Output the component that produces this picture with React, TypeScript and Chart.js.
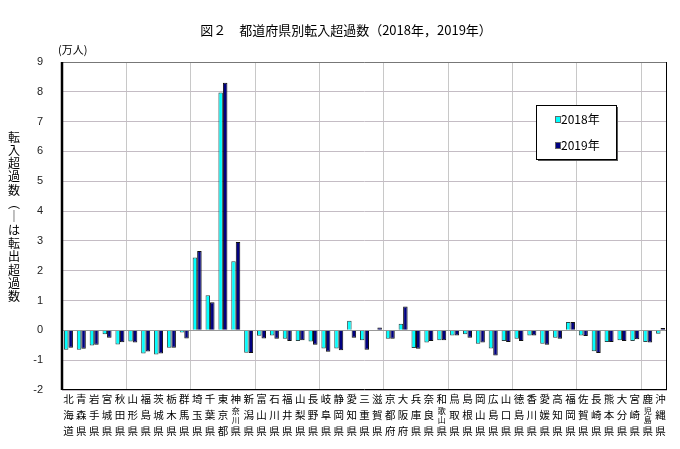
import React, { useEffect, useRef } from 'react';
import { Chart, registerables } from 'chart.js';

Chart.register(...registerables);

const prefectures = [
  '北海道', '青森県', '岩手県', '宮城県', '秋田県', '山形県', '福島県', '茨城県', '栃木県', '群馬県',
  '埼玉県', '千葉県', '東京都', '神奈川県', '新潟県', '富山県', '石川県', '福井県', '山梨県', '長野県',
  '岐阜県', '静岡県', '愛知県', '三重県', '滋賀県', '京都府', '大阪府', '兵庫県', '奈良県', '和歌山県',
  '鳥取県', '島根県', '岡山県', '広島県', '山口県', '徳島県', '香川県', '愛媛県', '高知県', '福岡県',
  '佐賀県', '長崎県', '熊本県', '大分県', '宮崎県', '鹿児島県', '沖縄県',
];

const values2018 = [
  -0.65, -0.65, -0.51, -0.13, -0.47, -0.37, -0.78, -0.81, -0.58, -0.07,
  2.44, 1.18, 7.98, 2.32, -0.75, -0.18, -0.17, -0.28, -0.36, -0.37,
  -0.61, -0.61, 0.32, -0.33, 0.02, -0.28, 0.22, -0.59, -0.41, -0.33,
  -0.17, -0.13, -0.45, -0.61, -0.36, -0.28, -0.17, -0.45, -0.25, 0.28,
  -0.17, -0.70, -0.39, -0.33, -0.36, -0.39, -0.11,
];

const values2019 = [
  -0.58, -0.62, -0.48, -0.25, -0.40, -0.41, -0.71, -0.78, -0.58, -0.27,
  2.66, 0.94, 8.30, 2.96, -0.76, -0.27, -0.28, -0.36, -0.33, -0.48,
  -0.72, -0.67, -0.25, -0.65, 0.10, -0.28, 0.80, -0.62, -0.36, -0.33,
  -0.17, -0.25, -0.41, -0.84, -0.39, -0.36, -0.17, -0.48, -0.28, 0.28,
  -0.19, -0.76, -0.39, -0.36, -0.30, -0.41, 0.08,
];

const seriesNames = ['2018年', '2019年'];
const seriesColors = ['#00FFFF', '#000080'];
const yMin = -2;
const yMax = 9;
const yStep = 1;
const titleText = '図２　都道府県別転入超過数（2018年，2019年）';
const unitText = '(万人)';
const yAxisTitleChars = ['転', '入', '超', '過', '数', '︵', '｜', 'は', '転', '出', '超', '過', '数'];

const JP = '"Noto Sans CJK JP", "Noto Sans", sans-serif';
const NUM = '"Liberation Sans Narrow", "Liberation Sans", Arial, sans-serif';

const textPlugin = {
  id: 'textPlugin',
  afterDraw(chart: any) {
    const { ctx, chartArea, scales } = chart;
    const xs = scales.x;
    ctx.save();
    // title
    ctx.fillStyle = '#000';
    ctx.font = `13px ${JP}`;
    ctx.textAlign = 'center';
    ctx.textBaseline = 'middle';
    ctx.fillText(titleText, 346, 30);
    // unit
    ctx.font = `11px ${JP}`;
    ctx.textAlign = 'left';
    ctx.fillText(unitText, 58, 50);
    // y axis title (vertical)
    ctx.font = `12px ${JP}`;
    ctx.textAlign = 'center';
    yAxisTitleChars.forEach((c, i) => {
      ctx.fillText(c, 14, 137 + i * 13.3);
    });
    // x labels (vertical stacks)
    const rows = [399, 415.5, 431.5];
    prefectures.forEach((name, i) => {
      const x = xs.getPixelForValue(i);
      const chars = Array.from(name);
      ctx.font = `10.5px ${JP}`;
      if (chars.length === 3) {
        chars.forEach((c, r) => ctx.fillText(c, x, rows[r]));
      } else {
        ctx.fillText(chars[0], x, rows[0]);
        ctx.fillText(chars[3], x, rows[2]);
        ctx.font = `8px ${JP}`;
        ctx.fillText(chars[1], x, 410.5);
        ctx.fillText(chars[2], x, 420);
      }
    });
    // legend
    const lx = 536, ly = 105, lw = 80, lh = 54;
    ctx.fillStyle = '#555';
    ctx.fillRect(lx + 2, ly + 2, lw, lh);
    ctx.fillStyle = '#fff';
    ctx.fillRect(lx, ly, lw, lh);
    ctx.strokeStyle = '#000';
    ctx.lineWidth = 1;
    ctx.strokeRect(lx + 0.5, ly + 0.5, lw, lh);
    seriesNames.forEach((s, i) => {
      const yy = i === 0 ? 119 : 145;
      ctx.fillStyle = seriesColors[i];
      ctx.fillRect(555, yy - 3, 5, 6);
      ctx.strokeStyle = '#666';
      ctx.strokeRect(555.5, yy - 2.5, 5, 6);
      ctx.fillStyle = '#000';
      ctx.font = `12px ${JP}`;
      ctx.textAlign = 'left';
      ctx.fillText(s, 561, yy);
    });
    ctx.restore();
  },
  afterDatasetsDraw(chart: any) {
    const { ctx, chartArea } = chart;
    const { left, right, top, bottom } = chartArea;
    ctx.save();
    ctx.strokeStyle = '#777';
    ctx.lineWidth = 1;
    ctx.beginPath();
    ctx.moveTo(left, top + 0.5);
    ctx.lineTo(right, top + 0.5);
    ctx.stroke();
    ctx.strokeStyle = '#000';
    ctx.beginPath();
    ctx.moveTo(right - 0.5, top);
    ctx.lineTo(right - 0.5, bottom);
    ctx.moveTo(left, bottom - 0.5);
    ctx.lineTo(right, bottom - 0.5);
    ctx.stroke();
    ctx.lineWidth = 2.5;
    ctx.beginPath();
    ctx.moveTo(left, top);
    ctx.lineTo(left, bottom);
    ctx.stroke();
    ctx.restore();
  },
};

export default function App() {
  const ref = useRef<HTMLCanvasElement>(null);
  useEffect(() => {
    if (!ref.current) return;
    const chart = new Chart(ref.current, {
      type: 'bar',
      data: {
        labels: prefectures,
        datasets: [
          {
            label: seriesNames[0],
            data: values2018,
            backgroundColor: seriesColors[0],
            borderColor: '#2a4a4a',
            borderWidth: 1,
            barPercentage: 1,
            categoryPercentage: 0.7,
          },
          {
            label: seriesNames[1],
            data: values2019,
            backgroundColor: seriesColors[1],
            borderColor: '#111',
            borderWidth: 1,
            barPercentage: 1,
            categoryPercentage: 0.7,
          },
        ],
      },
      options: {
        responsive: false,
        animation: false,
        devicePixelRatio: 1,
        layout: { padding: { left: 0, right: 13, top: 62, bottom: 59 } },
        plugins: {
          legend: { display: false },
          title: { display: false },
          tooltip: { enabled: false },
        },
        scales: {
          x: {
            ticks: { display: false, autoSkip: false },
            grid: {
              drawTicks: false,
              offset: true,
              color: (c: any) => (c.index > 0 && c.index % 5 === 0 ? '#c8c8c8' : 'rgba(0,0,0,0)'),
              lineWidth: 1,
            },
            border: { display: false },
            afterFit: (s: any) => { s.height = 0; },
          },
          y: {
            min: yMin,
            max: yMax,
            ticks: {
              stepSize: yStep,
              padding: 19,
              color: '#222',
              font: { family: NUM, size: 11 },
            },
            grid: {
              drawTicks: false,
              color: (c: any) => (c.tick && c.tick.value === 0 ? '#999' : '#c4bcc4'),
              lineWidth: 1,
            },
            border: { display: false },
            afterFit: (s: any) => { s.width = 62; },
          },
        },
      },
      plugins: [textPlugin],
    });
    return () => chart.destroy();
  }, []);
  return (
    <div style={{ position: 'fixed', left: 0, top: 0, width: 680, height: 449, background: '#fff' }}>
      <canvas ref={ref} width={680} height={449} />
    </div>
  );
}
